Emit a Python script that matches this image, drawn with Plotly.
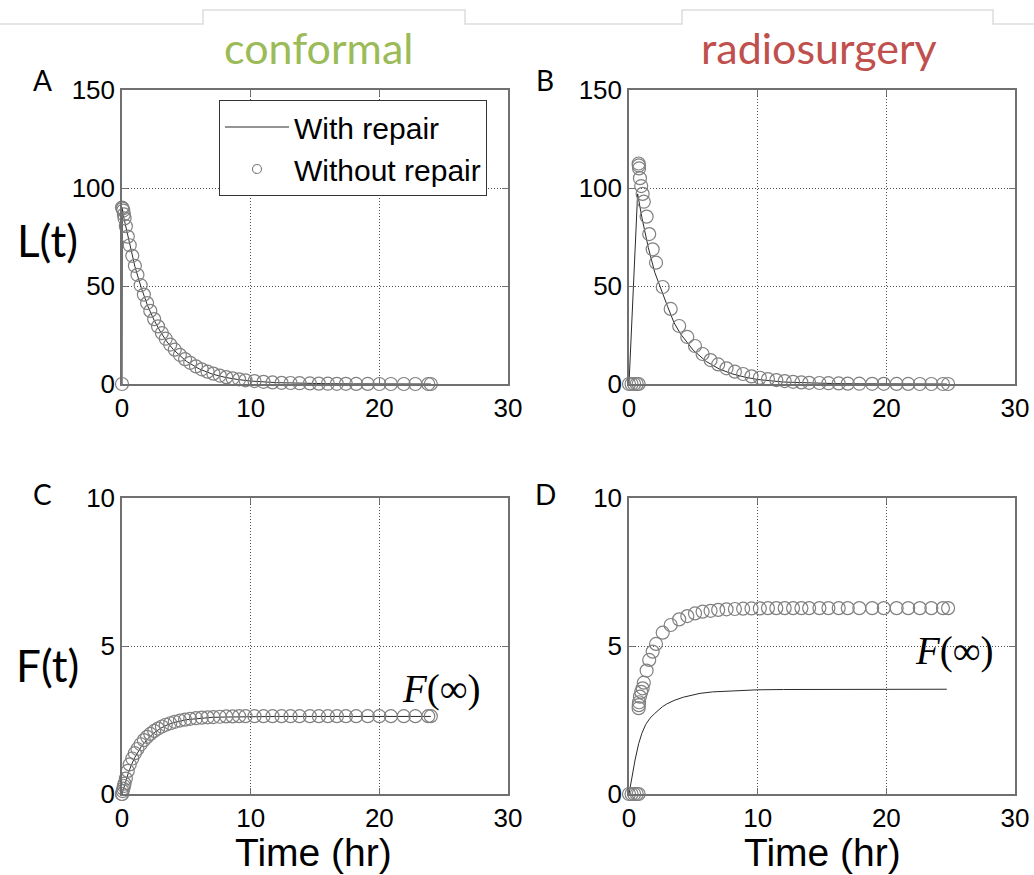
import plotly.graph_objects as go

# ---------------- data ----------------
# conformal, "without repair" (circles)
t_conf = [0, 0, 0.05, 0.1, 0.15, 0.2, 0.3, 0.45, 0.6, 0.8, 1.0, 1.2, 1.45, 1.7, 1.95, 2.2, 2.5, 2.8,
          3.1, 3.4, 3.75, 4.1, 4.5, 4.9, 5.3, 5.75, 6.2, 6.65, 7.1, 7.6, 8.1, 8.6, 9.1, 9.6, 10.3, 11.0,
          11.7, 12.4, 13.1, 13.8, 14.6, 15.3, 16.0, 16.7, 17.4, 18.2, 19.1, 20.0, 20.9, 21.9, 22.8, 23.8, 24.0]
L_conf = [0, 90, 89.5, 88.5, 86.5, 84.5, 80.5, 75.2, 70.8, 65.4, 60.3, 55.7, 50.4, 45.6, 41.3, 37.3, 33.1,
          29.4, 26.0, 23.1, 20.1, 17.5, 14.9, 12.7, 10.8, 9.0, 7.5, 6.3, 5.3, 4.3, 3.5, 2.9, 2.4, 1.9, 1.5,
          1.1, 0.8, 0.6, 0.5, 0.4, 0.3, 0.2, 0.15, 0.1, 0.1, 0.05, 0.05, 0, 0, 0, 0, 0, 0]
F_conf = [0, 0, 0.1, 0.18, 0.27, 0.35, 0.52, 0.78, 1.0, 1.2, 1.38, 1.52, 1.68, 1.82, 1.93, 2.03, 2.13,
          2.21, 2.28, 2.34, 2.39, 2.44, 2.48, 2.51, 2.54, 2.56, 2.58, 2.59, 2.6, 2.61, 2.62, 2.62, 2.63,
          2.63, 2.63, 2.63, 2.63, 2.63, 2.63, 2.63, 2.63, 2.63, 2.63, 2.63, 2.63, 2.63, 2.63, 2.63, 2.63,
          2.63, 2.63, 2.63, 2.63]

# conformal, "with repair" (line)
t_conf_line = [0, 0.02, 0.1, 0.25, 0.5, 0.75, 1, 1.5, 2, 2.5, 3, 3.5, 4, 5, 6, 7, 8, 9, 10, 12, 14, 16,
               18, 20, 22, 24]
L_conf_line = [0, 90, 86, 81.5, 73.5, 66.5, 60, 49, 39.8, 32.5, 26.5, 21.5, 17.5, 11.6, 7.7, 5.1, 3.4,
               2.3, 1.5, 0.7, 0.3, 0.15, 0.07, 0.03, 0.01, 0]
F_conf_line = [0, 0.03, 0.15, 0.37, 0.72, 1.0, 1.24, 1.6, 1.87, 2.07, 2.22, 2.33, 2.41, 2.51, 2.56, 2.59,
               2.6, 2.61, 2.62, 2.62, 2.62, 2.62, 2.62, 2.62, 2.62, 2.62]

# radiosurgery, "without repair" (circles)
t_rs = [0, 0.2, 0.4, 0.6, 0.75, 0.75, 0.76, 0.78, 0.85, 0.95, 1.06, 1.15, 1.37, 1.57, 1.84, 2.1, 2.62,
        3.24, 3.9, 4.53, 5.13, 5.72, 6.34, 6.93, 7.58, 8.23, 8.87, 9.52, 10.17, 10.8, 11.45, 12.1, 12.75,
        13.4, 14.0, 14.8, 15.5, 16.3, 17.0, 17.9, 18.9, 19.8, 20.8, 21.7, 22.6, 23.5, 24.4, 24.8]
L_rs = [0, 0, 0, 0, 0, 112.5, 111.5, 110, 105, 101, 97, 93, 85.4, 76.5, 68.7, 61.9, 49.5, 38.3, 29.6,
        24.0, 19.4, 15.3, 12.2, 10.0, 8.0, 6.3, 5.1, 3.9, 3.2, 2.5, 2.0, 1.5, 1.1, 0.8, 0.6, 0.5, 0.4,
        0.3, 0.2, 0.15, 0.1, 0.1, 0.05, 0.05, 0, 0, 0, 0]
F_rs = [0, 0, 0, 0, 0, 2.9, 3.0, 3.1, 3.29, 3.45, 3.57, 3.76, 4.17, 4.53, 4.81, 5.07, 5.45, 5.71, 5.90,
        6.01, 6.10, 6.16, 6.19, 6.22, 6.24, 6.25, 6.26, 6.27, 6.27, 6.28, 6.28, 6.28, 6.28, 6.28, 6.28,
        6.28, 6.28, 6.28, 6.28, 6.28, 6.28, 6.28, 6.28, 6.28, 6.28, 6.28, 6.28, 6.28]

# radiosurgery, "with repair" (lines)
t_rs_Lline = [0, 0.67, 1, 1.5, 2, 2.5, 3, 3.5, 4, 5, 6, 7, 8, 9, 10, 12, 14, 16, 18, 20, 22, 24, 24.7]
L_rs_line = [0, 97, 85, 69.6, 57, 48, 39.5, 31.3, 25.6, 17.2, 11.5, 7.7, 5.2, 3.5, 2.3, 1.0, 0.5, 0.2,
             0.1, 0, 0, 0, 0]
t_rs_Fline = [0, 0.2, 0.47, 0.75, 1.0, 1.3, 1.63, 2.0, 2.28, 2.6, 2.93, 3.5, 4.22, 5.0, 5.52, 6.5, 8.1,
              10, 12, 15, 18, 20, 22, 24.7]
F_rs_line = [0, 0.5, 1.15, 1.7, 2.05, 2.35, 2.56, 2.72, 2.84, 2.95, 3.04, 3.16, 3.27, 3.35, 3.40, 3.45,
             3.49, 3.52, 3.53, 3.53, 3.54, 3.54, 3.54, 3.54]

x_ticks = [0, 10, 20, 30]
L_ticks = [0, 50, 100, 150]
F_ticks = [0, 5, 10]

# ---------------- figure ----------------
W, H = 1034, 875
def px(x):
    return x / W
def py(y):
    return 1 - y / H

LINE = dict(color="#2a2a2a", width=1)
MARK = dict(symbol="circle-open", size=13, color="#808080", line=dict(width=1.2, color="#808080"))

fig = go.Figure()
panels = [
    ("x", "y", t_conf_line, L_conf_line, t_conf, L_conf),
    ("x2", "y2", t_rs_Lline, L_rs_line, t_rs, L_rs),
    ("x3", "y3", t_conf_line, F_conf_line, t_conf, F_conf),
    ("x4", "y4", t_rs_Fline, F_rs_line, t_rs, F_rs),
]
for xa, ya, tl, yl, tc, yc in panels:
    fig.add_trace(go.Scatter(x=tl, y=yl, mode="lines", line=LINE, xaxis=xa, yaxis=ya,
                             showlegend=False, cliponaxis=False, hoverinfo="skip"))
    fig.add_trace(go.Scatter(x=tc, y=yc, mode="markers", marker=MARK, xaxis=xa, yaxis=ya,
                             showlegend=False, cliponaxis=False, hoverinfo="skip"))

# legend entries
fig.add_trace(go.Scatter(x=[None], y=[None], mode="lines", line=LINE, name="With repair",
                         xaxis="x", yaxis="y"))
fig.add_trace(go.Scatter(x=[None], y=[None], mode="markers", name="Without repair", xaxis="x", yaxis="y",
                         marker=dict(symbol="circle-open", size=9, color="#808080",
                                     line=dict(width=1.2, color="#808080"))))

AX = dict(showline=True, linecolor="#707070", linewidth=1.5, mirror="ticks", ticks="inside",
          ticklen=6, tickcolor="#707070", showgrid=True, gridcolor="#505050", griddash="1px,2px",
          gridwidth=1, zeroline=False, automargin=False,
          tickfont=dict(family="Liberation Sans, Arial, sans-serif", size=26, color="black"))

colA = [px(122), px(508)]
colB = [px(629), px(1015)]
rowTop = [py(384), py(90)]
rowBot = [py(794), py(498)]

fig.update_layout(
    width=W, height=H, margin=dict(l=0, r=0, t=0, b=0, autoexpand=False),
    paper_bgcolor="white", plot_bgcolor="white",
    xaxis=dict(AX, domain=colA, range=[0, 30], tickvals=x_ticks, anchor="y"),
    yaxis=dict(AX, domain=rowTop, range=[0, 150], tickvals=L_ticks, anchor="x"),
    xaxis2=dict(AX, domain=colB, range=[0, 30], tickvals=x_ticks, anchor="y2"),
    yaxis2=dict(AX, domain=rowTop, range=[0, 150], tickvals=L_ticks, anchor="x2"),
    xaxis3=dict(AX, domain=colA, range=[0, 30], tickvals=x_ticks, anchor="y3"),
    yaxis3=dict(AX, domain=rowBot, range=[0, 10], tickvals=F_ticks, anchor="x3"),
    xaxis4=dict(AX, domain=colB, range=[0, 30], tickvals=x_ticks, anchor="y4"),
    yaxis4=dict(AX, domain=rowBot, range=[0, 10], tickvals=F_ticks, anchor="x4"),
    legend=dict(x=px(219), y=py(100), xanchor="left", yanchor="top", bgcolor="white",
                bordercolor="#333333", borderwidth=1,
                font=dict(family="Liberation Sans, Arial, sans-serif", size=30, color="black"),
                itemwidth=64, tracegroupgap=0),
    showlegend=True,
)

SANS = "Lato, 'Open Sans', sans-serif"
ann = [
    dict(text="conformal", x=px(318), y=py(48), font=dict(family=SANS, size=43, color="#9BBB59")),
    dict(text="radiosurgery", x=px(819), y=py(48), font=dict(family=SANS, size=43, color="#C0504D")),
    dict(text="A", x=px(42), y=py(80), font=dict(family=SANS, size=28, color="black")),
    dict(text="B", x=px(545), y=py(80), font=dict(family=SANS, size=28, color="black")),
    dict(text="C", x=px(42), y=py(494), font=dict(family=SANS, size=28, color="black")),
    dict(text="D", x=px(545), y=py(494), font=dict(family=SANS, size=28, color="black")),
    dict(text="L(t)", x=px(47), y=py(240), font=dict(family=SANS, size=44, color="black")),
    dict(text="F(t)", x=px(47), y=py(665), font=dict(family=SANS, size=44, color="black")),
    dict(text="Time (hr)", x=px(313), y=py(852),
         font=dict(family="Liberation Sans, Arial, sans-serif", size=39, color="black")),
    dict(text="Time (hr)", x=px(822), y=py(852),
         font=dict(family="Liberation Sans, Arial, sans-serif", size=39, color="black")),
    dict(text="<i>F</i>(∞)", x=px(441), y=py(689),
         font=dict(family="Liberation Serif, 'DejaVu Serif', serif", size=39, color="black")),
    dict(text="<i>F</i>(∞)", x=px(954), y=py(651),
         font=dict(family="Liberation Serif, 'DejaVu Serif', serif", size=39, color="black")),
]
for a in ann:
    a.update(xref="paper", yref="paper", showarrow=False, xanchor="center", yanchor="middle")
fig.update_layout(annotations=ann)

# light grey tab outline at the top of the slide
fig.add_shape(type="path", xref="paper", yref="paper",
              path=(f"M 0 {py(24)} L {px(203)} {py(24)} L {px(203)} {py(10)} L {px(465)} {py(10)} "
                    f"L {px(465)} {py(24)} L {px(682)} {py(24)} L {px(682)} {py(10)} L {px(993)} {py(10)} "
                    f"L {px(993)} {py(24)} L 1 {py(24)}"),
              line=dict(color="#dddddd", width=1.5))

fig.write_html("out.html")
